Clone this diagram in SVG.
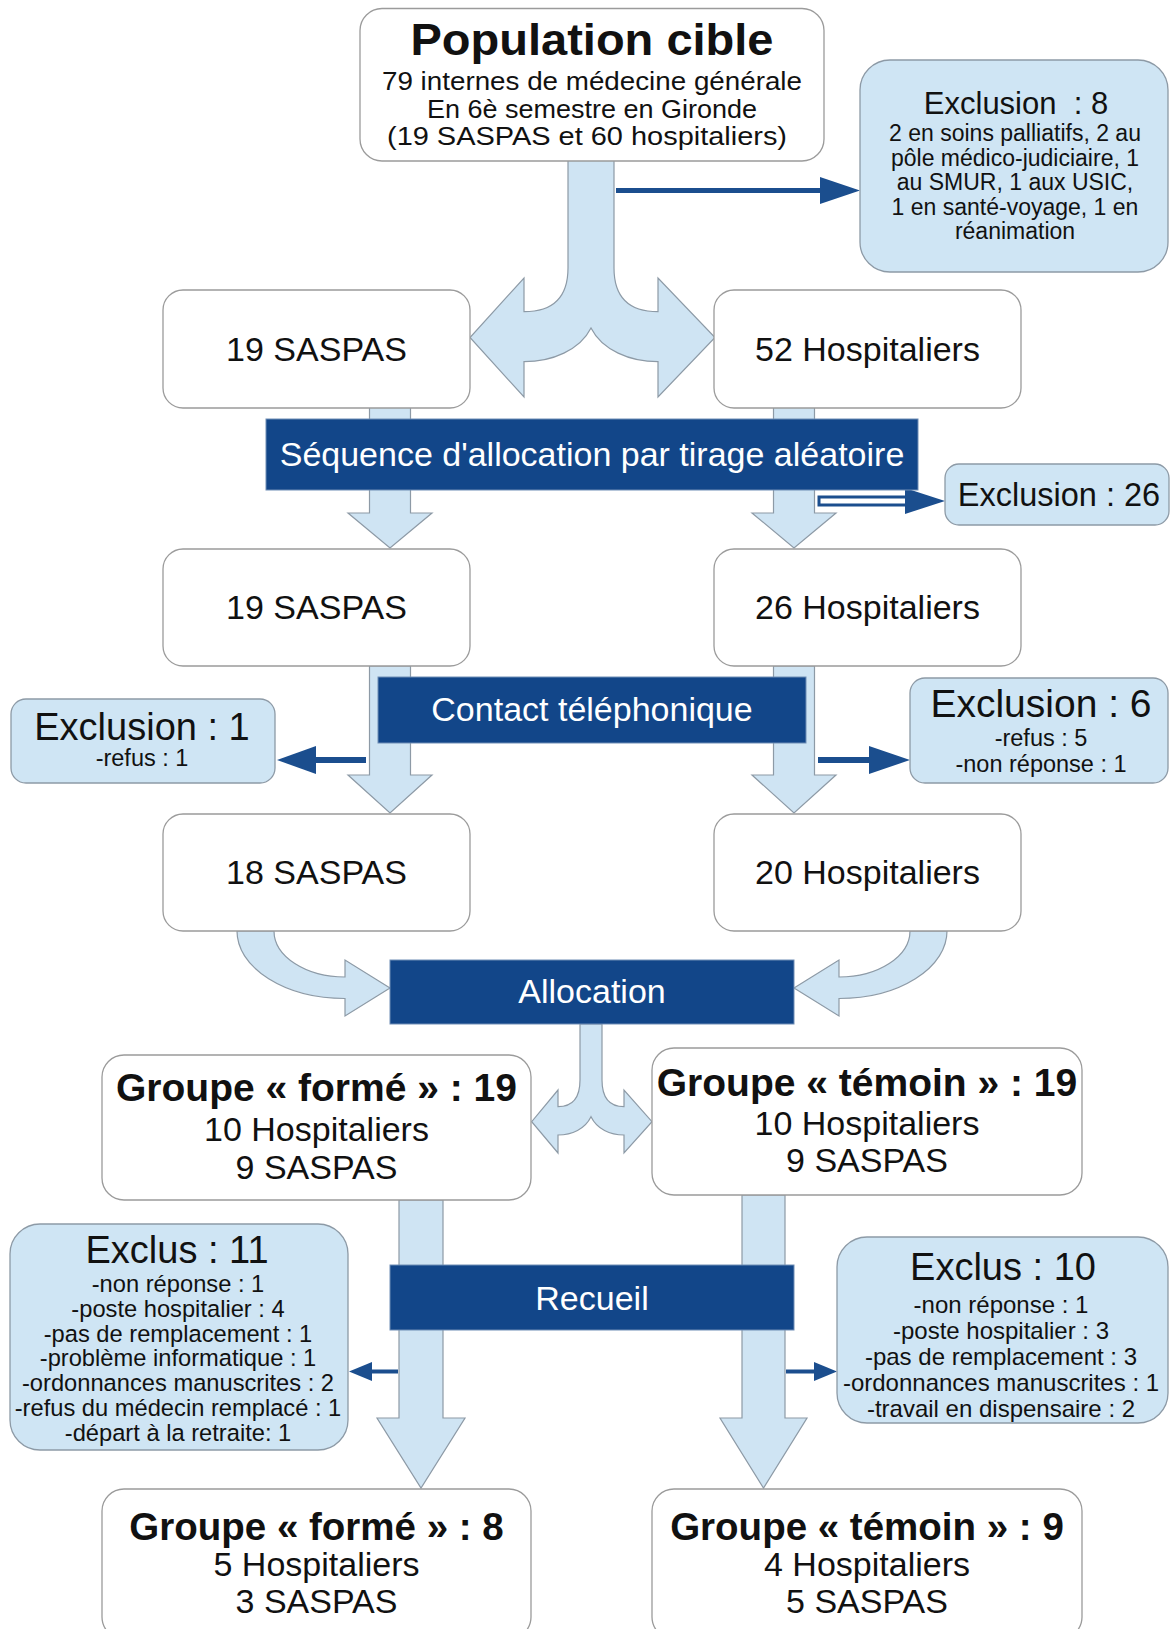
<svg xmlns="http://www.w3.org/2000/svg" width="1171" height="1629" viewBox="0 0 1171 1629">
<style>
text{font-family:"Liberation Sans",Arial,Helvetica,sans-serif;fill:#111;text-anchor:middle}
.node{fill:#fff;stroke:#9b9b9b;stroke-width:1.3}
.excl{fill:#cfe5f4;stroke:#8d9aa6;stroke-width:1.3}
.dark{fill:#124689;stroke:#6f8db5;stroke-width:1}
.flow{fill:#cfe4f3;stroke:#8d9aa6;stroke-width:1.2}
.conn{stroke:#1b4e8e;fill:none}
.head{fill:#1b4e8e}
.wt{fill:#fff}
.b{font-weight:bold}
</style>
<rect width="1171" height="1629" fill="#fff"/>

<g id="flows">
<path class="flow" d="M568,160 L568,268 Q568,311.7 524,311.7 L524,278 L470,337.5 L524,397 L524,361.7 C552,361.7 580,350 591,328 C602,350 630,361.7 658,361.7 L658,397 L715,337.5 L658,278 L658,311.7 Q614,311.7 614,268 L614,160 Z"/>
<path class="flow" d="M369.5,407 L369.5,513 L348,513 L390,548 L432,513 L410.5,513 L410.5,407 Z"/>
<path class="flow" d="M773.5,407 L773.5,513 L752,513 L794,548 L836,513 L814.5,513 L814.5,407 Z"/>
<path class="flow" d="M369.5,666 L369.5,775 L348,775 L390,813 L432,775 L410.5,775 L410.5,666 Z"/>
<path class="flow" d="M773.5,666 L773.5,775 L752,775 L794,813 L836,775 L814.5,775 L814.5,666 Z"/>
<path class="flow" d="M237,931 A108,67.5 0 0 0 345,998.5 L345,1016 L390,988 L345,960 L345,977 A71,46 0 0 1 274,931 Z"/>
<path class="flow" d="M947,931 A108,67.5 0 0 1 839,998.5 L839,1016 L794,988 L839,960 L839,977 A71,46 0 0 0 910,931 Z"/>
<path class="flow" d="M580,1024 L580,1080 Q580,1106.7 558,1106.7 L558,1090 L531.7,1121.7 L558,1153 L558,1135 C572,1135 585,1129 591,1116.7 C597,1129 610,1135 624,1135 L624,1153 L652,1121.7 L624,1090 L624,1106.7 Q602,1106.7 602,1080 L602,1024 Z"/>
<path class="flow" d="M399,1200 L399,1418 L377,1418 L421,1488 L465,1418 L443,1418 L443,1200 Z"/>
<path class="flow" d="M742,1195 L742,1418 L720,1418 L763.5,1488 L807,1418 L785,1418 L785,1195 Z"/>
</g>

<g id="connectors">
<line class="conn" x1="616" y1="190.5" x2="822" y2="190.5" stroke-width="5"/>
<polygon class="head" points="820,177 860,190.5 820,204"/>
<rect x="819" y="497" width="88" height="8" fill="#fff" stroke="#1b4e8e" stroke-width="3"/>
<polygon class="head" points="905,488 945,501 905,514"/>
<line class="conn" x1="366" y1="760" x2="313" y2="760" stroke-width="6"/>
<polygon class="head" points="316,746 277,760 316,774"/>
<line class="conn" x1="818" y1="760" x2="872" y2="760" stroke-width="6"/>
<polygon class="head" points="869,746 910,760 869,774"/>
<line class="conn" x1="398" y1="1371.5" x2="370" y2="1371.5" stroke-width="4"/>
<polygon class="head" points="372,1362 349,1371.5 372,1381"/>
<line class="conn" x1="786" y1="1371.5" x2="816" y2="1371.5" stroke-width="4"/>
<polygon class="head" points="814,1362 837,1371.5 814,1381"/>
</g>

<g id="n-population">
<rect class="node" x="360" y="8.5" width="464" height="152.5" rx="22"/>
<text class="b" x="592" y="55" font-size="44" textLength="363" lengthAdjust="spacingAndGlyphs">Population cible</text>
<text x="592" y="90" font-size="26" textLength="420" lengthAdjust="spacingAndGlyphs">79 internes de médecine générale</text>
<text x="592" y="118" font-size="26" textLength="330" lengthAdjust="spacingAndGlyphs">En 6è semestre en Gironde</text>
<text x="587" y="145" font-size="26" textLength="400" lengthAdjust="spacingAndGlyphs">(19 SASPAS et 60 hospitaliers)</text>
</g>

<g id="n-excl8">
<rect class="excl" x="860" y="60" width="308" height="212" rx="30"/>
<text x="1016" y="114" font-size="31" style="white-space:pre">Exclusion  : 8</text>
<text x="1015" y="141" font-size="23">2 en soins palliatifs, 2 au</text>
<text x="1015" y="165.5" font-size="23">pôle médico-judiciaire, 1</text>
<text x="1015" y="190" font-size="23">au SMUR, 1 aux USIC,</text>
<text x="1015" y="214.5" font-size="23">1 en santé-voyage, 1 en</text>
<text x="1015" y="239" font-size="23">réanimation</text>
</g>

<g id="n-saspas19a">
<rect class="node" x="163" y="290" width="307" height="118" rx="20"/>
<text x="316.5" y="361" font-size="34">19 SASPAS</text>
</g>
<g id="n-hosp52">
<rect class="node" x="714" y="290" width="307" height="118" rx="20"/>
<text x="867.5" y="361" font-size="34">52 Hospitaliers</text>
</g>

<g id="n-sequence">
<rect class="dark" x="266" y="419" width="652" height="71"/>
<text class="wt" x="592" y="466" font-size="34">Séquence d'allocation par tirage aléatoire</text>
</g>

<g id="n-excl26">
<rect class="excl" x="945" y="464" width="224" height="61" rx="14"/>
<text x="1059" y="506" font-size="32.5">Exclusion : 26</text>
</g>

<g id="n-saspas19b">
<rect class="node" x="163" y="549" width="307" height="117" rx="20"/>
<text x="316.5" y="619" font-size="34">19 SASPAS</text>
</g>
<g id="n-hosp26">
<rect class="node" x="714" y="549" width="307" height="117" rx="20"/>
<text x="867.5" y="619" font-size="34">26 Hospitaliers</text>
</g>

<g id="n-contact">
<rect class="dark" x="378" y="677" width="428" height="66"/>
<text class="wt" x="592" y="721" font-size="34">Contact téléphonique</text>
</g>

<g id="n-excl1">
<rect class="excl" x="11" y="699" width="264" height="84" rx="15"/>
<text x="142" y="740" font-size="38">Exclusion : 1</text>
<text x="142" y="766" font-size="23.5">-refus : 1</text>
</g>

<g id="n-excl6">
<rect class="excl" x="910" y="678" width="258" height="105" rx="15"/>
<text x="1041" y="717" font-size="39">Exclusion : 6</text>
<text x="1041" y="746" font-size="23.5">-refus : 5</text>
<text x="1041" y="772" font-size="23.5">-non réponse : 1</text>
</g>

<g id="n-saspas18">
<rect class="node" x="163" y="814" width="307" height="117" rx="20"/>
<text x="316.5" y="884" font-size="34">18 SASPAS</text>
</g>
<g id="n-hosp20">
<rect class="node" x="714" y="814" width="307" height="117" rx="20"/>
<text x="867.5" y="884" font-size="34">20 Hospitaliers</text>
</g>

<g id="n-allocation">
<rect class="dark" x="390" y="960" width="404" height="64"/>
<text class="wt" x="592" y="1003" font-size="34">Allocation</text>
</g>

<g id="n-forme19">
<rect class="node" x="102" y="1055" width="429" height="145" rx="22"/>
<text class="b" x="316.5" y="1101" font-size="39">Groupe « formé » : 19</text>
<text x="316.5" y="1141" font-size="34">10 Hospitaliers</text>
<text x="316.5" y="1179" font-size="34">9 SASPAS</text>
</g>
<g id="n-temoin19">
<rect class="node" x="652" y="1048" width="430" height="147" rx="22"/>
<text class="b" x="867" y="1096" font-size="39">Groupe « témoin » : 19</text>
<text x="867" y="1135" font-size="34">10 Hospitaliers</text>
<text x="867" y="1172" font-size="34">9 SASPAS</text>
</g>

<g id="n-recueil">
<rect class="dark" x="390" y="1265" width="404" height="65"/>
<text class="wt" x="592" y="1310" font-size="34">Recueil</text>
</g>

<g id="n-exclus11">
<rect class="excl" x="10" y="1224" width="338" height="226" rx="30"/>
<text x="177" y="1263" font-size="38">Exclus : 11</text>
<text x="178" y="1292" font-size="23.7">-non réponse : 1</text>
<text x="178" y="1316.7" font-size="23.7">-poste hospitalier : 4</text>
<text x="178" y="1341.5" font-size="23.7">-pas de remplacement : 1</text>
<text x="178" y="1366.2" font-size="23.7">-problème informatique : 1</text>
<text x="178" y="1391" font-size="23.7">-ordonnances manuscrites : 2</text>
<text x="178" y="1415.7" font-size="23.7">-refus du médecin remplacé : 1</text>
<text x="178" y="1440.5" font-size="23.7">-départ à la retraite: 1</text>
</g>

<g id="n-exclus10">
<rect class="excl" x="837" y="1237" width="331" height="186" rx="30"/>
<text x="1003" y="1280" font-size="38">Exclus : 10</text>
<text x="1001" y="1312.5" font-size="24">-non réponse : 1</text>
<text x="1001" y="1338.5" font-size="24">-poste hospitalier : 3</text>
<text x="1001" y="1364.5" font-size="24">-pas de remplacement : 3</text>
<text x="1001" y="1390.5" font-size="24">-ordonnances manuscrites : 1</text>
<text x="1001" y="1416.5" font-size="24">-travail en dispensaire : 2</text>
</g>

<g id="n-forme8">
<rect class="node" x="102" y="1489" width="429" height="150" rx="22"/>
<text class="b" x="316.5" y="1540" font-size="38.5">Groupe « formé » : 8</text>
<text x="316.5" y="1576" font-size="34">5 Hospitaliers</text>
<text x="316.5" y="1613" font-size="34">3 SASPAS</text>
</g>
<g id="n-temoin9">
<rect class="node" x="652" y="1489" width="430" height="150" rx="22"/>
<text class="b" x="867" y="1540" font-size="38.5">Groupe « témoin » : 9</text>
<text x="867" y="1576" font-size="34">4 Hospitaliers</text>
<text x="867" y="1613" font-size="34">5 SASPAS</text>
</g>
</svg>
